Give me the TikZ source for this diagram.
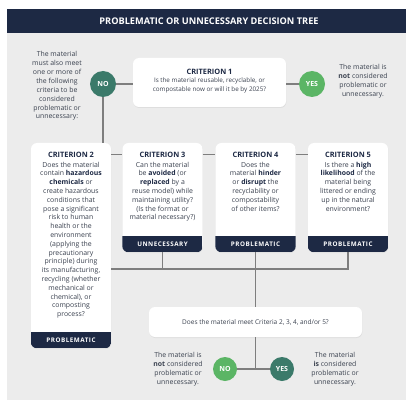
\documentclass[tikz,border=0pt]{standalone}
\usepackage{fontspec}
\setmainfont{Open Sans}
\newfontfamily\bandfont[LetterSpace=8]{Open Sans}
\usetikzlibrary{positioning,shadows}

\definecolor{navy}{HTML}{1D2944}
\definecolor{panel}{HTML}{ECECEC}
\definecolor{ink}{HTML}{3B4250}
\definecolor{linegray}{HTML}{7E7E7E}
\definecolor{darkteal}{HTML}{3B7A6A}
\definecolor{lightgreen}{HTML}{5BB565}

\begin{document}
\begin{tikzpicture}[x=1pt,y=-1pt,
  link/.style={draw=linegray, line width=1.1pt},
  card/.style={fill=white, rounded corners=6pt, inner sep=0pt,
    drop shadow={opacity=0.12, shadow xshift=0.4pt, shadow yshift=-1pt}},
  head/.style={font=\bfseries\fontsize{7.4}{8}\selectfont, text=navy, inner sep=0pt},
  body/.style={font=\fontsize{6.9}{8.8}\selectfont, text=ink, align=center, inner sep=0pt},
  note/.style={font=\fontsize{6.9}{8.9}\selectfont, text=ink, align=center, inner sep=0pt},
  band/.style={font=\bandfont\bfseries\fontsize{6.3}{7}\selectfont, text=white, inner sep=0pt},
  answer/.style={circle, inner sep=0pt, text=white, font=\bfseries\fontsize{7}{7}\selectfont}]

\useasboundingbox (0,0) rectangle (406,403);
\fill[panel] (7,33) rectangle (406,400);
\fill[navy] (7,9) rectangle (406,33);
\node[font=\bfseries\fontsize{9.2}{10}\selectfont, text=white] (title) at (209,21.5) {PROBLEMATIC OR UNNECESSARY DECISION TREE};

% criterion 1 row
\node[card, minimum width=153pt, minimum height=49pt] (c1) at (209.5,82.5) {};
\node[head] (c1h) at ([yshift=-14pt]c1.north) {CRITERION 1};
\node[body, font=\fontsize{6.3}{8.8}\selectfont, below=3pt of c1h] (c1b) {Is the material reusable, recyclable, or\\compostable now or will it be by 2025?};

\node[answer, fill=darkteal, minimum size=26pt] (no1) at (103,84) {NO};
\node[answer, fill=lightgreen, minimum size=26pt] (yes1) at (312,84) {YES};

\node[note] (mustmeet) at (57,86) {The material\\must also meet\\one or more of\\the following\\criteria to be\\considered\\problematic or\\unnecessary:};
\node[note] (notpu1) at (363,81) {The material is\\\textbf{not} considered\\problematic or\\unnecessary.};

% criteria 2 to 5
\node[card, minimum width=80pt, minimum height=205pt] (c2) at (71,245.5) {};
\node[card, minimum width=80pt, minimum height=109pt] (c3) at (162.5,197.5) {};
\node[card, minimum width=80pt, minimum height=109pt] (c4) at (255.5,197.5) {};
\node[card, minimum width=80pt, minimum height=109pt] (c5) at (348,197.5) {};

\foreach \c in {c2,c3,c4,c5}{
  \begin{scope}
    \clip[rounded corners=6pt] (\c.north west) rectangle (\c.south east);
    \fill[navy] (\c.south west) rectangle ([yshift=16.5pt]\c.south east);
  \end{scope}
}

\node[head] (c2h) at ([yshift=-12.5pt]c2.north) {CRITERION 2};
\node[body, below=3.5pt of c2h] (c2b) {Does the material\\contain \textbf{\color{navy}hazardous}\\\textbf{\color{navy}chemicals} or\\create hazardous\\conditions that\\pose a significant\\risk to human\\health or the\\environment\\(applying the\\precautionary\\principle) during\\its manufacturing,\\recycling (whether\\mechanical or\\chemical), or\\composting\\process?};
\node[band] (c2band) at ([yshift=8.25pt]c2.south) {PROBLEMATIC};

\node[head] (c3h) at ([yshift=-12.5pt]c3.north) {CRITERION 3};
\node[body, below=3.5pt of c3h] (c3b) {Can the material\\be \textbf{\color{navy}avoided} (or\\\textbf{\color{navy}replaced} by a\\reuse model) while\\maintaining utility?\\(Is the format or\\material necessary?)};
\node[band] (c3band) at ([yshift=8.25pt]c3.south) {UNNECESSARY};

\node[head] (c4h) at ([yshift=-12.5pt]c4.north) {CRITERION 4};
\node[body, below=3.5pt of c4h] (c4b) {Does the\\material \textbf{\color{navy}hinder}\\or \textbf{\color{navy}disrupt} the\\recyclability or\\compostability\\of other items?};
\node[band] (c4band) at ([yshift=8.25pt]c4.south) {PROBLEMATIC};

\node[head] (c5h) at ([yshift=-12.5pt]c5.north) {CRITERION 5};
\node[body, below=3.5pt of c5h] (c5b) {Is there a \textbf{\color{navy}high}\\\textbf{\color{navy}likelihood} of the\\material being\\littered or ending\\up in the natural\\environment?};
\node[band] (c5band) at ([yshift=8.25pt]c5.south) {PROBLEMATIC};

% final question
\node[card, minimum width=213pt, minimum height=30pt] (q) at (255.5,322) {};
\node[body, font=\fontsize{6.5}{8}\selectfont] (qt) at (q.center) {Does the material meet Criteria 2, 3, 4, and/or 5?};

\node[answer, fill=lightgreen, minimum size=24pt] (no2) at (225,369) {NO};
\node[answer, fill=darkteal, minimum size=24pt] (yes2) at (282,369) {YES};
\node[note] (notpu2) at (178,369) {The material is\\\textbf{not} considered\\problematic or\\unnecessary.};
\node[note] (ispu) at (335,369) {The material\\\textbf{is} considered\\problematic or\\unnecessary.};

% connectors
\coordinate (bus) at (0,269);
\draw[link] (no1) -- (no1 -| c1.west);
\draw[link] (c1.east |- yes1) -- (yes1);
\draw[link] (no1) -- (no1 |- c2.north);
\draw[link] ([yshift=-12pt]c2.north east) -- ([yshift=-12pt]c3.north west);
\draw[link] ([yshift=-12pt]c3.north east) -- ([yshift=-12pt]c4.north west);
\draw[link] ([yshift=-12pt]c4.north east) -- ([yshift=-12pt]c5.north west);
\draw[link] (c2.east |- bus) -- (c5.south |- bus) -- (c5.south);
\draw[link] (c3.south) -- (c3.south |- bus);
\draw[link] (c4.south) -- (q.north);
\draw[link] (q.south) -- (q.south |- no2);
\draw[link] (no2) -- (yes2);
\end{tikzpicture}
\end{document}
